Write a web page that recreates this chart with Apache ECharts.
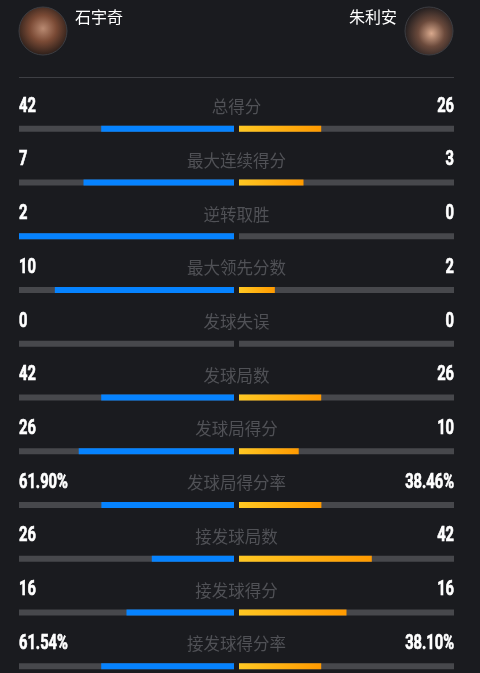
<!DOCTYPE html>
<html>
<head>
<meta charset="utf-8">
<script src="https://cdn.jsdelivr.net/npm/echarts@6/dist/echarts.min.js"></script>
<style>
  html, body { margin: 0; padding: 0; background: #1a1b1f; }
  #main { width: 480px; height: 673px; }
</style>
</head>
<body>
<div id="main"></div>
<script>
var players = ['石宇奇', '朱利安'];
var categories = ['总得分', '最大连续得分', '逆转取胜', '最大领先分数', '发球失误', '发球局数',
    '发球局得分', '发球局得分率', '接发球局数', '接发球得分', '接发球得分率'];
var leftValues = [42, 7, 2, 10, 0, 42, 26, 61.90, 26, 16, 61.54];
var rightValues = [26, 3, 0, 2, 0, 26, 10, 38.46, 42, 16, 38.10];
var rateRows = [7, 10];

var numFont = "bold 21px Roboto, 'DejaVu Sans', sans-serif";
var cjkFont = "'Noto Sans CJK SC', sans-serif";

function fmt(v, i) {
    return rateRows.indexOf(i) >= 0 ? v.toFixed(2) + '%' : String(v);
}
function share(a, b) {
    return a + b > 0 ? a / (a + b) : 0;
}

var leftShare = leftValues.map(function (v, i) { return share(v, rightValues[i]); });
var rightShare = rightValues.map(function (v, i) { return share(v, leftValues[i]); });

var chartDom = document.getElementById('main');
var myChart = echarts.init(chartDom);
var option;

var rowTop = 102;
var rowHeight = 591;
var labelLift = -22.5;

function catAxis(idx) {
    return {
        type: 'category', gridIndex: idx, data: categories, inverse: true, show: false
    };
}
function valAxis(idx, inverse) {
    return { type: 'value', gridIndex: idx, min: 0, max: 1, inverse: inverse, show: false };
}
// numbers: condensed look by squeezing the text horizontally
function numberSeries(x, align, values) {
    return {
        type: 'custom', xAxisIndex: 2, yAxisIndex: 2, silent: true, clip: false,
        data: categories.map(function (c, i) { return [x, i]; }),
        renderItem: function (params, api) {
            var p = api.coord([api.value(0), api.value(1)]);
            var i = params.dataIndex;
            return {
                type: 'text', x: p[0], y: p[1] + labelLift, scaleX: 0.7,
                style: {
                    text: fmt(values[i], i), fill: '#ffffff', font: numFont,
                    stroke: '#ffffff', lineWidth: 0.7,
                    align: align, verticalAlign: 'middle'
                }
            };
        }
    };
}

option = {
    backgroundColor: '#1a1b1f',
    animation: false,
    grid: [
        { left: 19, width: 215, top: rowTop, height: rowHeight, outerBoundsMode: 'none' },
        { left: 239, width: 215, top: rowTop, height: rowHeight, outerBoundsMode: 'none' },
        { left: 19, width: 435, top: rowTop, height: rowHeight, outerBoundsMode: 'none' }
    ],
    xAxis: [valAxis(0, true), valAxis(1, false), valAxis(2, false)],
    yAxis: [catAxis(0), catAxis(1), catAxis(2)],
    graphic: [
        { type: 'circle', shape: { cx: 43, cy: 31, r: 24 },
          style: { fill: new echarts.graphic.RadialGradient(0.5, 0.45, 0.6, [
              { offset: 0, color: '#b98a72' }, { offset: 0.45, color: '#7a4a35' }, { offset: 1, color: '#1c1614' }]),
              stroke: '#3c3d42', lineWidth: 1 } },
        { type: 'circle', shape: { cx: 429, cy: 31, r: 24 },
          style: { fill: new echarts.graphic.RadialGradient(0.55, 0.55, 0.6, [
              { offset: 0, color: '#d9a98d' }, { offset: 0.45, color: '#6b4a3c' }, { offset: 1, color: '#15161a' }]),
              stroke: '#3c3d42', lineWidth: 1 } },
        { type: 'text', left: 75, top: 9,
          style: { text: players[0], fill: '#ffffff', font: '16px ' + cjkFont } },
        { type: 'text', right: 83, top: 9,
          style: { text: players[1], fill: '#ffffff', font: '16px ' + cjkFont } },
        { type: 'line', shape: { x1: 19, y1: 77.5, x2: 454, y2: 77.5 },
          style: { stroke: '#3e3f44', lineWidth: 1 } }
    ],
    series: [
        {
            type: 'bar', xAxisIndex: 0, yAxisIndex: 0, barWidth: 6, silent: true,
            data: leftShare,
            itemStyle: { color: '#0683ff' },
            showBackground: true,
            backgroundStyle: { color: '#47484c' }
        },
        {
            type: 'bar', xAxisIndex: 1, yAxisIndex: 1, barWidth: 6, silent: true,
            data: rightShare,
            itemStyle: {
                color: new echarts.graphic.LinearGradient(0, 0, 1, 0, [
                    { offset: 0, color: '#ffc823' }, { offset: 1, color: '#ff9a00' }])
            },
            showBackground: true,
            backgroundStyle: { color: '#47484c' }
        },
        numberSeries(0, 'left', leftValues),
        numberSeries(1, 'right', rightValues),
        {
            type: 'scatter', xAxisIndex: 2, yAxisIndex: 2, symbolSize: 0, silent: true,
            data: categories.map(function (c, i) { return [0.5, i]; }),
            label: {
                show: true, position: 'inside', offset: [0, -22],
                color: '#5e5f64', fontFamily: cjkFont, fontSize: 16.5,
                formatter: function (p) { return categories[p.dataIndex]; }
            }
        }
    ]
};
option && myChart.setOption(option);
</script>
</body>
</html>
